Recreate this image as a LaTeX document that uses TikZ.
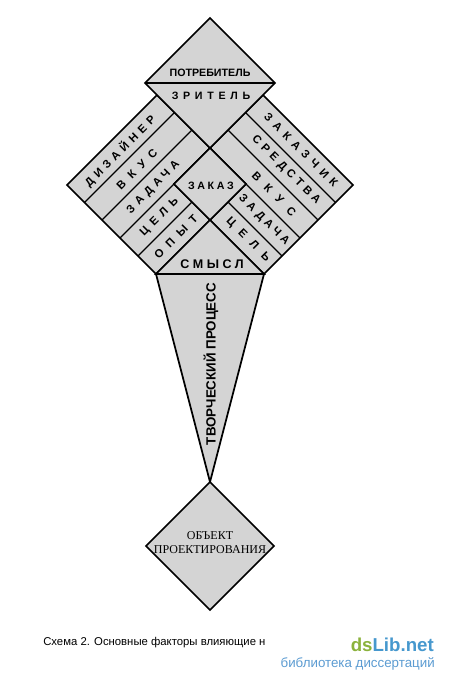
\documentclass[tikz,border=0pt]{standalone}
\usepackage{fontspec}
\setmainfont{Liberation Sans}
\newfontfamily\objfont{Liberation Serif}
\usepackage{tikz}
\definecolor{dsgreen}{RGB}{139,178,60}
\definecolor{dsblue}{RGB}{70,152,206}
\definecolor{libblue}{RGB}{92,156,210}
\newcommand\spread[2]{{\addfontfeatures{LetterSpace=#1}#2}}

\begin{document}
\begin{tikzpicture}[
  x=0.75pt, y=-0.75pt,
  part/.style={fill=black!17, draw, line width=1.3pt, line join=miter},
  stripline/.style={draw, line width=0.9pt},
  lbl/.style={font=\bfseries\fontsize{8}{9}\selectfont, inner sep=0pt},
  lstrip/.style={lbl, font=\bfseries\fontsize{8.5}{9}\selectfont, rotate=45},
  rstrip/.style={lbl, font=\bfseries\fontsize{8.5}{9}\selectfont, rotate=-45},
]
  \path[use as bounding box, fill=white] (0,0) rectangle (450,684);

  % Key corners
  \coordinate (apex) at (210,18);
  \coordinate (pl) at (145,83);
  \coordinate (pr) at (275,83);
  \coordinate (mid) at (210,148);
  \coordinate (ltop) at (157,95);
  \coordinate (lleft) at (67,185);
  \coordinate (lbot) at (156,274);
  \coordinate (rtop) at (263,95);
  \coordinate (rright) at (353,185);
  \coordinate (rbot) at (264,274);
  \coordinate (zl) at (174,184);
  \coordinate (zr) at (246,184);
  \coordinate (zb) at (210,220);
  \coordinate (tip) at (210,482);
  \coordinate (ol) at (146,546);
  \coordinate (or) at (274,546);
  \coordinate (ob) at (210,610);

  % Left and right blocks with their strips
  \path[part] (ltop) -- (lleft) -- (lbot) -- (zb) -- (zl) -- (mid) -- cycle;
  \path[part] (rtop) -- (rright) -- (rbot) -- (zb) -- (zr) -- (mid) -- cycle;
  \draw[stripline] (84.5,202.5) -- (174.5,112.5);
  \draw[stripline] (102,220) -- (192,130);
  \draw[stripline] (120,238) -- (mid);
  \draw[stripline] (138,256) -- (192,202);
  \draw[stripline] (245.5,112.5) -- (335.5,202.5);
  \draw[stripline] (228,130) -- (318,220);
  \draw[stripline] (mid) -- (300,238);
  \draw[stripline] (228,202) -- (282,256);

  % Top diamond
  \path[part] (apex) -- (pr) -- (mid) -- (pl) -- cycle;
  \draw[line width=1.3pt] (pl) -- (pr);

  % Centre, meaning, process, object
  \path[part] (mid) -- (zr) -- (zb) -- (zl) -- cycle;
  \path[part] (zb) -- (rbot) -- (lbot) -- cycle;
  \path[part] (lbot) -- (rbot) -- (tip) -- cycle;
  \path[part] (tip) -- (or) -- (ob) -- (ol) -- cycle;

  % Labels
  \node[lbl] (potr) at (210,73) {ПОТРЕБИТЕЛЬ};
  \node[lbl] (zrit) at (211,96) {\spread{44}{ЗРИТЕЛЬ}};
  \node[lbl] (zakaz) at (211,186) {\spread{24}{ЗАКАЗ}};
  \node[lbl, font=\bfseries\fontsize{9.4}{10}\selectfont] (smysl) at (212,264) {\spread{28}{СМЫСЛ}};

  \node[lstrip] (dizajner) at (120,151) {\spread{40}{ДИЗАЙНЕР}};
  \node[lstrip] (vkusl) at (137,169) {\spread{37}{В К У С}};
  \node[lstrip] (zadachal) at (153.5,187.5) {\spread{39}{ЗАДАЧА}};
  \node[lstrip] (cell) at (159.5,217.5) {\spread{50}{ЦЕЛЬ}};
  \node[lstrip] (opyt) at (176,237) {\spread{62}{ОПЫТ}};

  \node[rstrip] (zakazchik) at (301,150) {\spread{49}{ЗАКАЗЧИК}};
  \node[rstrip] (sredstva) at (286,170) {\spread{37}{СРЕДСТВА}};
  \node[rstrip] (vkusr) at (274,194) {\spread{50}{В К У С}};
  \node[rstrip] (zadachar) at (264,220) {\spread{34}{ЗАДАЧА}};
  \node[rstrip] (celr) at (248,240) {\spread{74}{ЦЕЛЬ}};

  \node[lbl, rotate=90, font=\bfseries\fontsize{10}{12}\selectfont] (process) at (211,364) {ТВОРЧЕСКИЙ ПРОЦЕСС};
  \node[align=center, inner sep=0pt, font=\objfont\fontsize{9}{10.5}\selectfont] (object) at (210,543) {ОБЪЕКТ\\ПРОЕКТИРОВАНИЯ};

  % Caption and site mark
  \node[anchor=base west, inner sep=0pt, font=\fontsize{8.5}{10}\selectfont] (caption) at (43,645) {Схема 2. Основные факторы влияющие н};
  \node[anchor=base east, inner sep=0pt, font=\bfseries\fontsize{14}{16}\selectfont] (site) at (434,651) {\textcolor{dsgreen}{ds}\textcolor{dsblue}{Lib.net}};
  \node[anchor=base east, inner sep=0pt, font=\fontsize{10}{12}\selectfont, text=libblue] (sitesub) at (435,667) {библиотека диссертаций};
\end{tikzpicture}
\end{document}
